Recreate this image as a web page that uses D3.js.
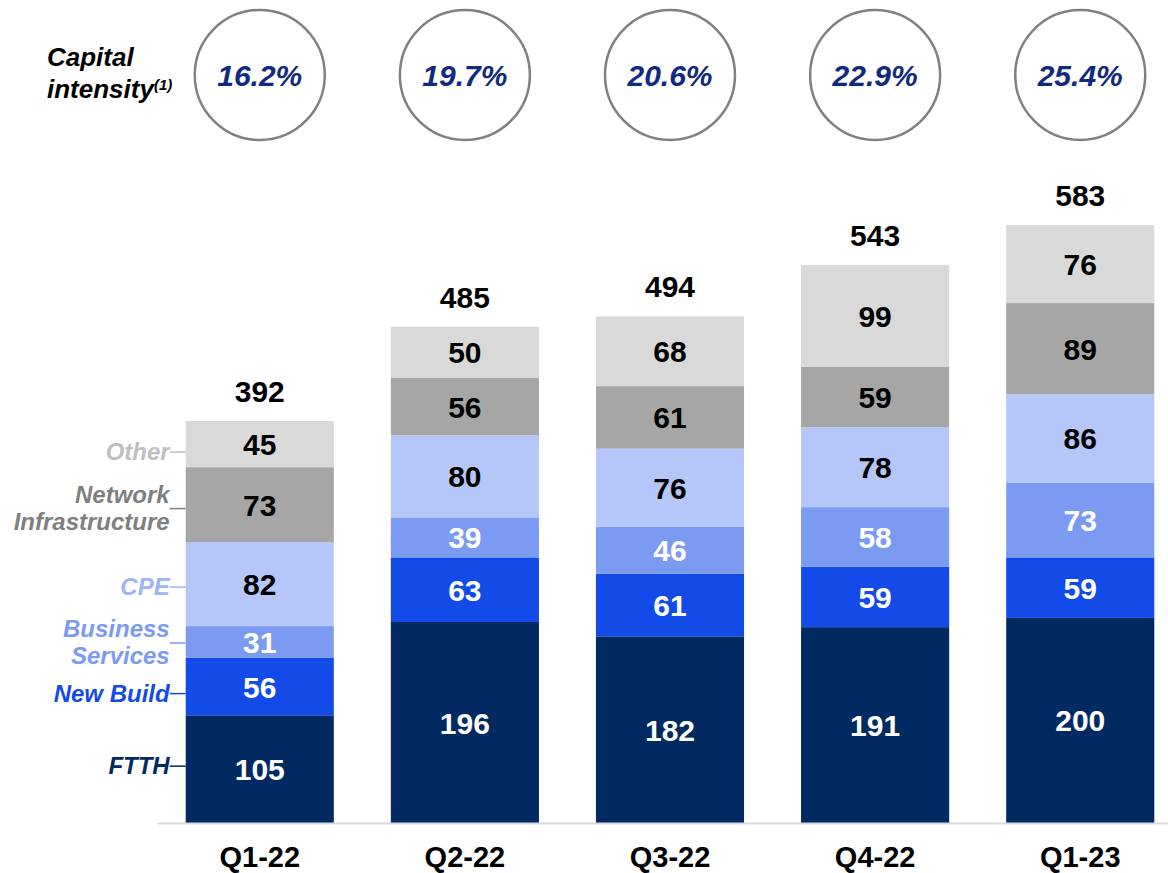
<!DOCTYPE html>
<html>
<head>
<meta charset="utf-8">
<script src="https://cdn.jsdelivr.net/npm/d3@7"></script>
<style>
  body { margin: 0; background: #fff; }
  text { font-family: "Liberation Sans", Arial, sans-serif; font-weight: bold; }
</style>
</head>
<body>
<div id="chart"></div>
<script>
var quarters = ["Q1-22", "Q2-22", "Q3-22", "Q4-22", "Q1-23"];
var ftth = [105, 196, 182, 191, 200];
var newBuild = [56, 63, 61, 59, 59];
var business = [31, 39, 46, 58, 73];
var cpe = [82, 80, 76, 78, 86];
var network = [73, 56, 61, 59, 89];
var other = [45, 50, 68, 99, 76];
var totals = [392, 485, 494, 543, 583];
var intensity = ["16.2%", "19.7%", "20.6%", "22.9%", "25.4%"];

var seriesNames = ["FTTH", "New Build", "Business Services", "CPE", "Network Infrastructure", "Other"];
var seriesValues = [ftth, newBuild, business, cpe, network, other];
var fills = ["#012a62", "#124be8", "#7b9bf2", "#b4c7f8", "#a6a6a6", "#d9d9d9"];
var labelColors = ["#012a62", "#124be8", "#7b9bf2", "#9db5f6", "#7f7f7f", "#bfbfbf"];
var valueColors = ["#fff", "#fff", "#fff", "#000", "#000", "#000"];
// legend label lines, and small nudges (px) off the segment middle
var legendLines = [["FTTH"], ["New Build"], ["Business", "Services"], ["CPE"], ["Network", "Infrastructure"], ["Other"]];
var legendNudge = [-3, 7, 1, 3, 4, 8];

var width = 1168, height = 873;
var svg = d3.select("#chart").append("svg")
    .attr("width", width)
    .attr("height", height);

var x = d3.scaleBand().domain(quarters).range([157, 1183]).paddingInner(0.278).paddingOuter(0.14);
var y = d3.scaleLinear().domain([0, 600]).range([823, 823 - 600 * 1.0255]);

var rows = quarters.map(function(q, i) {
  var r = { q: q };
  seriesNames.forEach(function(s, k) { r[s] = seriesValues[k][i]; });
  return r;
});
var stacked = d3.stack().keys(seriesNames)(rows);

var layers = svg.selectAll("g.layer").data(stacked).enter().append("g")
    .attr("class", "layer");

layers.selectAll("rect").data(function(d) { return d; }).enter().append("rect")
    .attr("x", function(d) { return x(d.data.q); })
    .attr("width", x.bandwidth())
    .attr("y", function(d) { return y(d[1]); })
    .attr("height", function(d) { return y(d[0]) - y(d[1]); })
    .attr("fill", function(d, i, n) { return fills[d3.select(n[i].parentNode).datum().index]; });

layers.selectAll("text").data(function(d) { return d.map(function(p) { return { p: p, k: d.index }; }); }).enter().append("text")
    .attr("x", function(d) { return x(d.p.data.q) + x.bandwidth() / 2; })
    .attr("y", function(d) { return (y(d.p[0]) + y(d.p[1])) / 2 + 11; })
    .attr("text-anchor", "middle")
    .style("font-size", "30px")
    .attr("fill", function(d) { return valueColors[d.k]; })
    .text(function(d) { return d.p[1] - d.p[0]; });

// totals
svg.selectAll("text.total").data(totals).enter().append("text")
    .attr("class", "total")
    .attr("x", function(d, i) { return x(quarters[i]) + x.bandwidth() / 2; })
    .attr("y", function(d, i) { return y(stacked[stacked.length - 1][i][1]) - 19; })
    .attr("text-anchor", "middle")
    .style("font-size", "30px")
    .attr("fill", "#000")
    .text(function(d) { return d; });

// baseline axis
var xAxis = d3.axisBottom(x).tickSize(0).tickPadding(23);
var ax = svg.append("g").attr("transform", "translate(0," + y(0) + ")").call(xAxis);
ax.select(".domain").attr("stroke", "#d9d9d9").attr("stroke-width", 2);
ax.selectAll("text")
    .style("font-size", "29px")
    .style("font-family", "'Liberation Sans', Arial, sans-serif")
    .style("font-weight", "bold")
    .attr("fill", "#000");

// legend labels on the first bar
var x0 = x(quarters[0]);
stacked.forEach(function(layer, k) {
  var p = layer[0];
  var ym = (y(p[0]) + y(p[1])) / 2 + legendNudge[k];
  svg.append("line")
      .attr("x1", x0 - 16).attr("x2", x0)
      .attr("y1", ym).attr("y2", ym)
      .attr("stroke", labelColors[k]).attr("stroke-width", 1.5);
  var lines = legendLines[k];
  var t = svg.append("text")
      .attr("text-anchor", "end")
      .style("font-size", "24px")
      .style("font-style", "italic")
      .attr("fill", labelColors[k]);
  lines.forEach(function(l, j) {
    t.append("tspan")
        .attr("x", x0 - 16)
        .attr("y", ym + 8 + (j - (lines.length - 1) / 2) * 27)
        .text(l);
  });
});

// capital intensity row
var ci = svg.append("text")
    .style("font-size", "26px")
    .style("font-style", "italic")
    .attr("fill", "#000");
ci.append("tspan").attr("x", 47).attr("y", 66).text("Capital");
ci.append("tspan").attr("x", 47).attr("y", 98).text("intensity");
ci.append("tspan").attr("dy", -8).style("font-size", "15px").text("(1)");

svg.selectAll("circle.ci").data(intensity).enter().append("circle")
    .attr("class", "ci")
    .attr("cx", function(d, i) { return x(quarters[i]) + x.bandwidth() / 2; })
    .attr("cy", 75)
    .attr("r", 65)
    .attr("fill", "none")
    .attr("stroke", "#808080")
    .attr("stroke-width", 2.5);

svg.selectAll("text.ci").data(intensity).enter().append("text")
    .attr("class", "ci")
    .attr("x", function(d, i) { return x(quarters[i]) + x.bandwidth() / 2; })
    .attr("y", 86)
    .attr("text-anchor", "middle")
    .style("font-size", "30px")
    .style("font-style", "italic")
    .attr("fill", "#112b7c")
    .text(function(d) { return d; });
</script>
</body>
</html>
